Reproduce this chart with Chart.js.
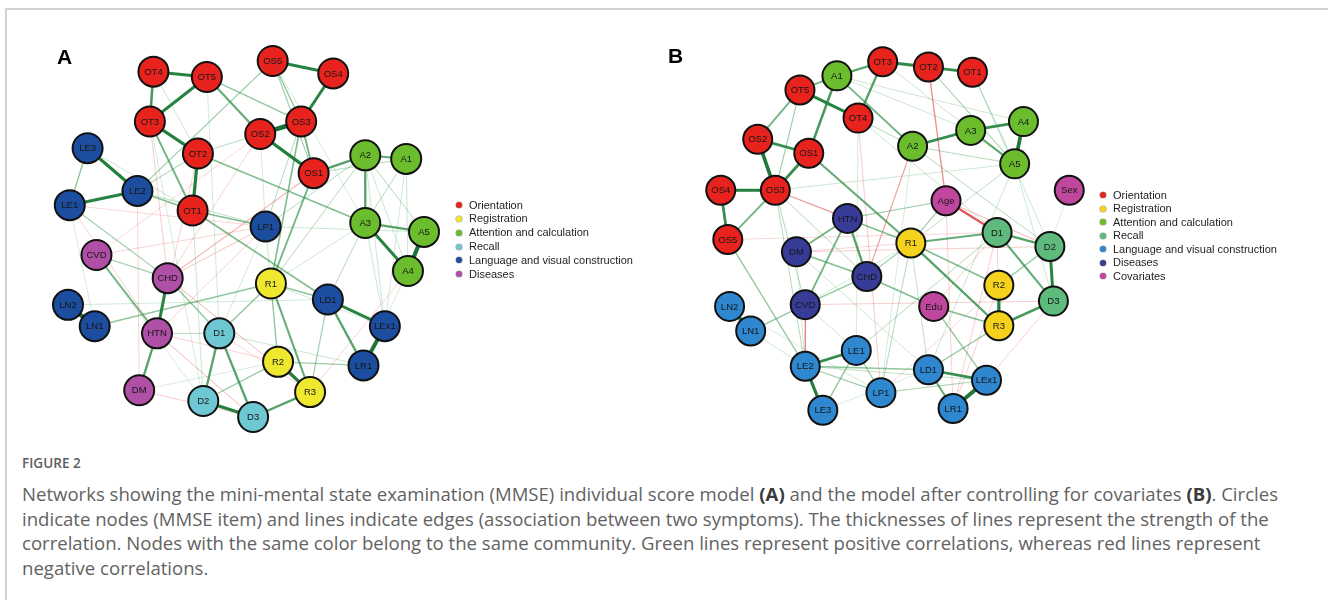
<!DOCTYPE html>
<html>
<head>
<meta charset="utf-8">
<script src="https://cdn.jsdelivr.net/npm/chart.js@4.4.1/dist/chart.umd.min.js"></script>
<style>
  html, body { margin: 0; padding: 0; background: #fff; width: 1328px; height: 600px; overflow: hidden; }
  body { position: relative; font-family: "Liberation Sans", Arial, sans-serif; }
  #frame { position: absolute; left: 5px; top: 8px; width: 1330px; height: 600px;
           border-top: 2px solid #d2d2d2; border-left: 2px solid #d2d2d2; }
  canvas.net { position: absolute; top: 0; }
  #netA { left: 0; }
  #netB { left: 664px; }
  .letter { position: absolute; font: bold 21px/21px "Liberation Sans", Arial, sans-serif; color: #000; }
  .legend-item { position: absolute; font: 11px/14px "Liberation Sans", Arial, sans-serif; color: #1e1e1e; white-space: nowrap; }
  .legend-dot { position: absolute; width: 6px; height: 6px; border-radius: 50%; box-shadow: 0 0 0 0.6px rgba(0,0,0,0.35); }
  #figlabel { position: absolute; left: 22px; top: 455px; font: 600 13.5px/17px "Open Sans", sans-serif;
              color: #5e5e5e; white-space: nowrap; transform-origin: 0 0; }
  #caption { position: absolute; left: 22px; top: 482px; font: 400 18.5px/24.5px "Open Sans", sans-serif;
             color: #626262; transform-origin: 0 0; }
  #caption .ln { white-space: nowrap; width: max-content; }
  #caption b { color: #3a3a3a; font-weight: 700; }
</style>
</head>
<body>
<div id="frame"></div>
<canvas id="netA" class="net" width="664" height="450"></canvas>
<canvas id="netB" class="net" width="664" height="450"></canvas>
<div class="letter" style="left:57px;top:46px">A</div>
<div class="letter" style="left:668px;top:45px">B</div>
<div id="legends"></div>
<div id="figlabel">FIGURE 2</div>
<div id="caption">
  <div class="ln">Networks showing the mini-mental state examination (MMSE) individual score model <b>(A)</b> and the model after controlling for covariates <b>(B)</b>. Circles</div>
  <div class="ln">indicate nodes (MMSE item) and lines indicate edges (association between two symptoms). The thicknesses of lines represent the strength of the</div>
  <div class="ln">correlation. Nodes with the same color belong to the same community. Green lines represent positive correlations, whereas red lines represent</div>
  <div class="ln">negative correlations.</div>
</div>

<script>
// ---------- Panel A: MMSE individual score model ----------
const communitiesA = ["Orientation", "Registration", "Attention and calculation", "Recall",
                      "Language and visual construction", "Diseases"];
const nodesA = ["OT1","OT2","OT3","OT4","OT5","OS1","OS2","OS3","OS4","OS5",
                "R1","R2","R3","A1","A2","A3","A4","A5","D1","D2","D3",
                "LN1","LN2","LE1","LE2","LE3","LP1","LD1","LEx1","LR1",
                "HTN","CHD","DM","CVD"];
const groupA = [0,0,0,0,0,0,0,0,0,0, 1,1,1, 2,2,2,2,2, 3,3,3, 4,4,4,4,4,4,4,4,4, 5,5,5,5];
// layout coordinates (spring layout, roughly -1..1)
const layoutAx = [-0.30,-0.27,-0.54,-0.52,-0.22, 0.38, 0.08, 0.31, 0.49, 0.15,
                   0.14, 0.18, 0.36, 0.90, 0.67, 0.67, 0.91, 1.00,-0.15,-0.24, 0.04,
                  -0.85,-1.00,-0.99,-0.61,-0.89, 0.11, 0.46, 0.78, 0.66,
                  -0.50,-0.44,-0.60,-0.84];
const layoutAy = [ 0.16, 0.48, 0.66, 0.94, 0.91, 0.37, 0.59, 0.66, 0.93, 1.00,
                  -0.25,-0.69,-0.86, 0.45, 0.47, 0.09,-0.18, 0.04,-0.53,-0.91,-1.00,
                  -0.49,-0.37, 0.19, 0.27, 0.51, 0.07,-0.34,-0.49,-0.71,
                  -0.53,-0.22,-0.85,-0.09];
// partial correlations (positive = green, negative = red)
const edgesA = [
  ["OS2","OS3",1.0],["LN2","LN1",0.95],["A5","A4",0.9],["LEx1","LR1",0.85],
  ["OT3","OT2",0.7],["OT2","OT1",0.7],["OS2","OS1",0.7],["LE3","LE2",0.7],["D2","D3",0.7],["R2","R3",0.7],
  ["OT4","OT5",0.65],["OT5","OT3",0.65],["OS5","OS4",0.65],["OS4","OS3",0.65],["LE2","LE1",0.65],
  ["A3","A4",0.65],["LD1","LEx1",0.65],["CHD","HTN",0.65],["OT4","OT3",0.55],
  ["A2","A3",0.5],["A3","A5",0.5],["OS1","A2",0.5],["HTN","DM",0.5],["D1","D2",0.5],["D1","D3",0.5],
  ["D3","R3",0.5],["LD1","LR1",0.5],["A2","A1",0.45],["R1","R3",0.45],["OT5","OS2",0.45],
  ["OS3","OS1",0.4],["OT3","OT1",0.4],["OS1","R1",0.4],["CVD","HTN",0.4],
  ["OT2","A3",0.35],["OT1","LD1",0.35],["OT1","LP1",0.35],["LE2","OT1",0.35],["OS3","R1",0.35],
  ["R1","D1",0.3],["R1","R2",0.3],["R1","LD1",0.3],["LN1","R1",0.3],["CHD","D1",0.3],
  ["OT5","OS3",0.3],["LE3","LE1",0.3],["OS5","OS3",0.3],["D2","R2",0.28],
  ["CVD","CHD",0.25],["LE1","CHD",0.25],["LE2","OS5",0.25],["OS5","OS1",0.25],["R2","LR1",0.25],
  ["LD1","R3",0.25],["OT2","LE2",0.22],["OS3","LP1",0.2],["A2","LP1",0.2],["A2","R1",0.2],
  ["A2","A5",0.2],["A1","A3",0.2],["A3","LD1",0.2],["HTN","D1",0.2],["OT2","OS2",0.2],["OS1","A1",0.2],
  ["LE2","LP1",0.18],["A3","LEx1",0.15],["A2","A4",0.15],["A2","LEx1",0.15],["A1","A4",0.15],
  ["LP1","A5",0.15],["R1","A3",0.15],["LE3","OT1",0.15],["OT4","OT2",0.15],["OT1","D2",0.15],
  ["D1","LR1",0.15],["LP1","R1",0.15],["A1","LEx1",0.12],["LN2","LD1",0.12],["OT5","D1",0.12],
  ["OS2","LP1",0.12],["LP1","D1",0.12],["R1","LEx1",0.12],["OT3","D2",0.1],["CVD","D2",0.1],
  ["LE1","LN1",0.1],["DM","R2",0.1],["OS5","A3",0.1],["A4","LR1",0.1],
  ["OT3","CHD",-0.15],["OS1","CHD",-0.22],["CHD","R3",-0.2],["HTN","D3",-0.2],["DM","D3",-0.15],
  ["CHD","LP1",-0.18],["LP1","HTN",-0.15],["A4","R3",-0.12],["LE2","DM",-0.12],["LE1","HTN",-0.12],
  ["OS2","CVD",-0.1],["OT2","HTN",-0.12],["CVD","LP1",-0.12],["HTN","R2",-0.12],["D1","R3",-0.1],
  ["OS2","CHD",-0.12],["LE1","LP1",-0.1]
];

// ---------- Panel B: model after controlling for covariates ----------
const communitiesB = ["Orientation", "Registration", "Attention and calculation", "Recall",
                      "Language and visual construction", "Diseases", "Covariates"];
const nodesB = ["OT1","OT2","OT3","OT4","OT5","OS1","OS2","OS3","OS4","OS5",
                "R1","R2","R3","A1","A2","A3","A4","A5","D1","D2","D3",
                "LN1","LN2","LE1","LE2","LE3","LP1","LD1","LEx1","LR1",
                "HTN","CHD","DM","CVD","Age","Edu","Sex"];
const groupB = [0,0,0,0,0,0,0,0,0,0, 1,1,1, 2,2,2,2,2, 3,3,3, 4,4,4,4,4,4,4,4,4, 5,5,5,5, 6,6,6];
const layoutBx = [ 0.44, 0.19,-0.07,-0.21,-0.54,-0.49,-0.78,-0.68,-0.99,-0.95,
                   0.09, 0.59, 0.59,-0.33, 0.10, 0.43, 0.73, 0.68, 0.58, 0.88, 0.90,
                  -0.82,-0.94,-0.22,-0.51,-0.41,-0.08, 0.19, 0.52, 0.33,
                  -0.27,-0.16,-0.56,-0.51, 0.29, 0.22, 0.99];
const layoutBy = [ 0.93, 0.96, 0.99, 0.67, 0.83, 0.47, 0.55, 0.26, 0.26,-0.02,
                  -0.04,-0.28,-0.51, 0.91, 0.51, 0.60, 0.65, 0.41, 0.02,-0.06,-0.37,
                  -0.54,-0.40,-0.65,-0.74,-0.99,-0.89,-0.76,-0.82,-0.98,
                   0.10,-0.23,-0.09,-0.39, 0.20,-0.40, 0.26];
const edgesB = [
  ["LEx1","LR1",0.85],["OS2","OS3",0.8],["A4","A5",0.8],["LN2","LN1",0.8],
  ["OS4","OS3",0.7],["R2","R3",0.7],["LE2","LE3",0.7],["OT5","OT4",0.65],["D2","D3",0.65],
  ["OT3","OT2",0.62],["OT2","OT1",0.6],["OS2","OS1",0.6],["OS1","OS3",0.6],["OS4","OS5",0.6],
  ["A2","A3",0.6],["A3","A4",0.6],["LE2","LE1",0.6],["LD1","LEx1",0.6],["A1","OS1",0.55],["D3","R3",0.55],
  ["A1","OT3",0.5],["OT3","OT4",0.5],["HTN","CHD",0.5],["D1","D2",0.5],["R1","R3",0.5],
  ["A3","A5",0.45],["D1","D3",0.45],["R1","D1",0.45],["OS1","R1",0.45],["LD1","LR1",0.45],
  ["A1","OT5",0.4],["A1","A2",0.4],["OT5","OS2",0.4],["OS3","OS5",0.4],["HTN","DM",0.4],["HTN","CVD",0.4],
  ["DM","CHD",0.35],["CHD","Edu",0.35],["HTN","R1",0.35],["R1","R2",0.35],["Edu","R3",0.35],
  ["CVD","CHD",0.3],["LN1","CVD",0.3],["OS5","LE2",0.3],["LE1","LE3",0.3],["LE2","LD1",0.3],
  ["R3","LD1",0.3],["Edu","LEx1",0.3],["D2","R2",0.3],
  ["OT5","OS3",0.25],["HTN","Age",0.25],["Age","R1",0.25],["CHD","R1",0.25],["LE1","LP1",0.25],
  ["LE2","LP1",0.25],["LP1","LEx1",0.22],["OT2","A5",0.22],
  ["OS3","CHD",0.2],["OS3","CVD",0.2],["OS3","LE2",0.2],["OT1","A5",0.2],["A2","A5",0.2],
  ["A2","D2",0.2],["LE1","D1",0.2],["R1","LP1",0.2],["R1","LD1",0.18],["LE2","LEx1",0.18],["A5","R1",0.18],
  ["A1","A3",0.15],["A1","A4",0.15],["OS3","A5",0.15],["A5","D3",0.15],["A5","LD1",0.15],
  ["LN1","LE2",0.15],["OT4","D1",0.15],["OT3","A5",0.15],["OT1","D2",0.15],["DM","LD1",0.15],
  ["CVD","LE1",0.15],["OT4","A2",0.12],["OT5","A2",0.12],["CVD","R1",0.12],["DM","LE2",0.12],
  ["LN2","LP1",0.1],["LE3","LD1",0.1],["OT4","LE1",0.1],["A2","LP1",0.1],["Sex","D2",0.08],
  ["Age","D1",-0.5],["OT2","Age",-0.3],["OS3","HTN",-0.28],["A2","CHD",-0.25],["Age","D2",-0.2],
  ["CVD","LE2",-0.2],["OT4","LP1",-0.15],["DM","D2",-0.15],["CVD","D3",-0.15],["D1","LR1",-0.15],
  ["R2","LR1",-0.12],["D1","R3",-0.12],["Age","LR1",-0.12],["D3","LEx1",-0.12],["DM","R1",-0.12],
  ["OS5","D1",-0.1],["Edu","D1",-0.12],["LP1","R2",-0.1]
];

// ---------- drawing styles ----------
const paletteA = ["#E8231E", "#EEE82E", "#6CBD2D", "#6DC8D3", "#1C4D9E", "#AF4FA5"];
const paletteB = ["#E8231E", "#F5D21E", "#6CBD2D", "#5EBB7D", "#2F87CF", "#373C98", "#BF489E"];
const frameA = { cx: 246, cy: 239, unit: 178, w: 664, h: 450, r: 15, legendX: 459, legendY: 205, legendStep: 13.85 };
const frameB = { cx: 231, cy: 236, unit: 176, w: 664, h: 450, r: 14.5, legendX: 1103, legendY: 195, legendStep: 13.55 };

function edgeColour(w) {
  const s = Math.min(1, Math.abs(w));
  const a = Math.min(1, 0.14 + s * 1.3);
  if (w > 0) {
    return `rgba(${Math.round(55 - 30 * s)},${Math.round(165 - 55 * s)},${Math.round(75 - 20 * s)},${a.toFixed(3)})`;
  }
  return `rgba(${Math.round(228 - 20 * s)},${Math.round(55 - 20 * s)},${Math.round(55 - 20 * s)},${a.toFixed(3)})`;
}

const nodeLabels = {
  id: 'nodeLabels',
  afterDatasetsDraw(chart) {
    const ctx = chart.ctx;
    ctx.save();
    ctx.font = '9.5px "Liberation Sans", Arial, sans-serif';
    ctx.fillStyle = '#161616';
    ctx.textAlign = 'center';
    ctx.textBaseline = 'middle';
    chart.data.datasets.forEach((ds, i) => {
      if (!ds.isNode) return;
      chart.getDatasetMeta(i).data.forEach((el, j) => {
        ctx.fillText(ds.data[j].id, el.x, el.y + 0.5);
      });
    });
    ctx.restore();
  }
};

function drawNetwork(canvasId, labels, groups, lx, ly, edges, communities, palette, frame) {
  const pos = {};
  labels.forEach((l, i) => { pos[l] = { x: lx[i], y: ly[i] }; });

  const edgeSets = edges.map(([a, b, w]) => {
    const s = Math.abs(w);
    return {
      data: [pos[a], pos[b]],
      showLine: true,
      pointRadius: 0,
      pointHoverRadius: 0,
      borderWidth: Math.max(0.75, s * 4.6),
      borderColor: edgeColour(w),
      borderCapStyle: 'round',
      order: 2 + (1 - s),
      clip: false
    };
  });

  const nodeSets = communities.map((name, gi) => ({
    label: name,
    isNode: true,
    data: labels.map((l, i) => ({ x: lx[i], y: ly[i], id: l, g: groups[i] })).filter(p => p.g === gi),
    pointRadius: frame.r,
    pointHoverRadius: frame.r,
    backgroundColor: palette[gi],
    borderColor: '#111111',
    borderWidth: 2,
    showLine: false,
    order: 0,
    clip: false
  }));

  new Chart(document.getElementById(canvasId), {
    type: 'scatter',
    data: { datasets: [...nodeSets, ...edgeSets] },
    options: {
      responsive: false,
      animation: false,
      events: [],
      layout: { padding: 0, autoPadding: false },
      plugins: { legend: { display: false }, tooltip: { enabled: false } },
      scales: {
        x: { type: 'linear', display: false, min: -frame.cx / frame.unit, max: (frame.w - frame.cx) / frame.unit },
        y: { type: 'linear', display: false, min: -(frame.h - frame.cy) / frame.unit, max: frame.cy / frame.unit }
      }
    },
    plugins: [nodeLabels]
  });

  // community legend
  const host = document.getElementById('legends');
  communities.forEach((name, gi) => {
    const yc = frame.legendY + gi * frame.legendStep;
    const dot = document.createElement('div');
    dot.className = 'legend-dot';
    dot.style.left = (frame.legendX - 3) + 'px';
    dot.style.top = (yc - 3) + 'px';
    dot.style.background = palette[gi];
    host.appendChild(dot);
    const txt = document.createElement('div');
    txt.className = 'legend-item';
    txt.textContent = name;
    txt.style.left = (frame.legendX + 10) + 'px';
    txt.style.top = (yc - 7.5) + 'px';
    host.appendChild(txt);
  });
}

drawNetwork('netA', nodesA, groupA, layoutAx, layoutAy, edgesA, communitiesA, paletteA, frameA);
drawNetwork('netB', nodesB, groupB, layoutBx, layoutBy, edgesB, communitiesB, paletteB, frameB);

// caption set in a condensed measure: fit the first line to the text block width
(function fitCaption() {
  const cap = document.getElementById('caption');
  const first = cap.querySelector('.ln');
  const w = first.getBoundingClientRect().width;
  const k = 1256 / w;
  cap.style.transform = `scaleX(${k})`;
  document.getElementById('figlabel').style.transform = `scaleX(${k})`;
})();
</script>
</body>
</html>
